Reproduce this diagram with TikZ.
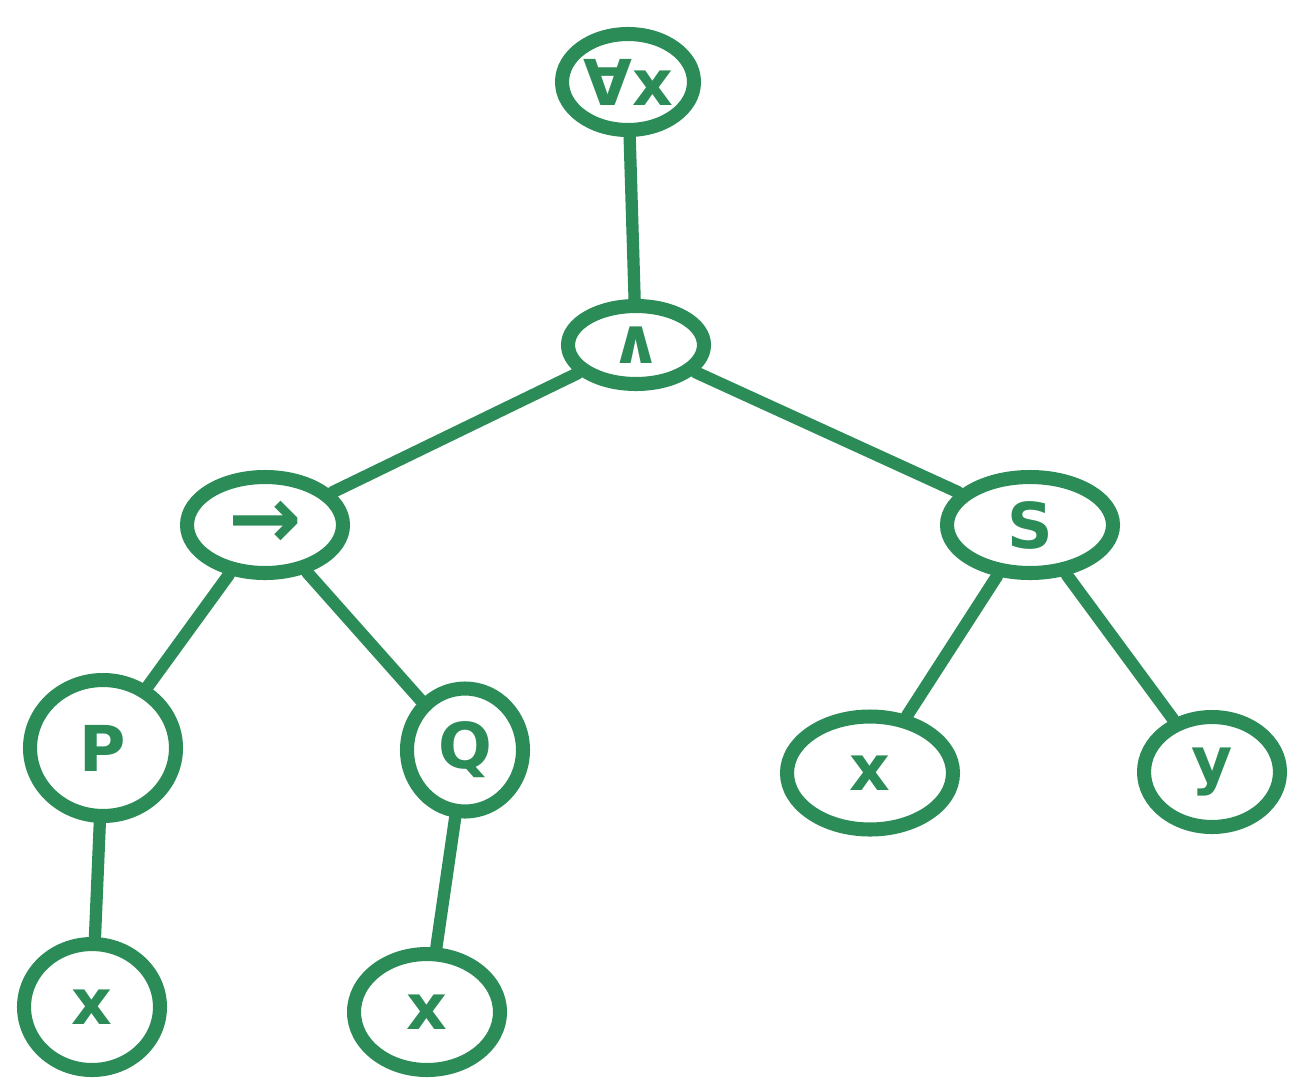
\documentclass[tikz,border=0pt]{standalone}
\usepackage{fontspec}
\setmainfont{DejaVu Sans}
\usetikzlibrary{shapes.geometric}
\definecolor{marker}{RGB}{44,140,88}
\begin{document}
\begin{tikzpicture}[x=0.02cm,y=0.02cm,
  treenode/.style={ellipse,draw=marker,line width=8pt,inner sep=0pt,
    text=marker,font=\fontsize{36}{36}\selectfont\bfseries},
  edge/.style={draw=marker,line width=7pt,line cap=round}]
\useasboundingbox[fill=white] (0,0) rectangle (1302,-1089);
\node[treenode,minimum width=2.64cm,minimum height=1.92cm] (forall) at (628,-82) {∀x};
\node[treenode,minimum width=2.72cm,minimum height=1.56cm] (and) at (636,-345) {∧};
\node[treenode,minimum width=3.12cm,minimum height=1.92cm] (imp) at (265,-525) {\fontsize{50}{50}\selectfont →};
\node[treenode,minimum width=3.32cm,minimum height=1.92cm] (s) at (1030,-525) {S};
\node[treenode,minimum width=2.92cm,minimum height=2.72cm] (p) at (103,-748) {P};
\node[treenode,minimum width=2.32cm,minimum height=2.46cm] (q) at (465,-750) {Q};
\node[treenode,minimum width=3.32cm,minimum height=2.26cm] (sx) at (870,-773) {x};
\node[treenode,minimum width=2.72cm,minimum height=2.2cm] (sy) at (1212,-772) {y};
\node[treenode,minimum width=2.72cm,minimum height=2.52cm] (px) at (92,-1007) {x};
\node[treenode,minimum width=2.92cm,minimum height=2.32cm] (qx) at (427,-1012) {x};
\draw[edge] (forall) -- (and);
\draw[edge] (and) -- (imp);
\draw[edge] (and) -- (s);
\draw[edge] (imp) -- (p);
\draw[edge] (imp) -- (q);
\draw[edge] (s) -- (sx);
\draw[edge] (s) -- (sy);
\draw[edge] (p) -- (px);
\draw[edge] (q) -- (qx);
\end{tikzpicture}
\end{document}
